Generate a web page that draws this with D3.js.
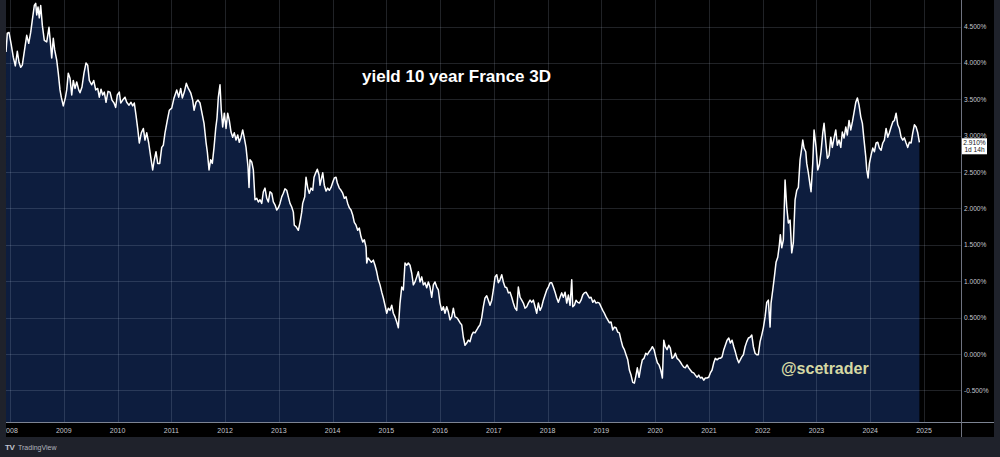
<!DOCTYPE html>
<html><head><meta charset="utf-8">
<script src="https://cdn.jsdelivr.net/npm/d3@7"></script>
<style>html,body{margin:0;padding:0;background:#1f222b;overflow:hidden}</style>
</head><body>
<svg id="c" width="1000" height="457"></svg>
<script>
const titleText = "yield 10 year France 3D";
const watermarkText = "@scetrader";
const brandText = "TradingView";
const yearTicks = d3.range(2008, 2026);
const yieldTicks = [-0.5, 0, 0.5, 1, 1.5, 2, 2.5, 3, 3.5, 4, 4.5];
const lastValueLabel = ["2.910%", "1d 14h"];

// decimal years
const dates = [
2007.926,2007.950,2007.981,2008.019,2008.061,2008.099,2008.136,2008.167,2008.199,2008.229,2008.279,2008.311,2008.348,2008.385,2008.415,2008.452,2008.478,2008.497,2008.521,2008.545,2008.571,2008.601,2008.638,2008.683,2008.725,2008.750,2008.776,2008.805,2008.831,2008.869,2008.898,2008.930,2008.954,2008.991,
2009.029,2009.055,2009.084,2009.116,2009.148,2009.177,2009.209,2009.241,2009.278,2009.302,2009.339,2009.376,2009.414,2009.445,2009.475,2009.520,2009.557,2009.594,2009.631,2009.661,2009.693,2009.724,2009.754,2009.786,2009.823,2009.860,2009.897,2009.935,2009.966,2009.996,
2010.033,2010.059,2010.096,2010.139,2010.171,2010.214,2010.251,2010.282,2010.312,2010.344,2010.375,2010.405,2010.442,2010.480,2010.511,2010.543,2010.580,2010.617,2010.654,2010.684,2010.716,2010.747,2010.785,2010.822,2010.852,2010.883,2010.926,2010.963,
2011.008,2011.051,2011.101,2011.138,2011.175,2011.205,2011.242,2011.279,2011.317,2011.361,2011.398,2011.423,2011.460,2011.497,2011.534,2011.571,2011.609,2011.646,2011.670,2011.702,2011.733,2011.763,2011.795,2011.826,2011.850,2011.875,2011.906,2011.930,2011.956,2011.986,
2012.018,2012.049,2012.079,2012.111,2012.142,2012.172,2012.204,2012.235,2012.265,2012.297,2012.328,2012.358,2012.390,2012.427,2012.446,2012.464,2012.496,2012.526,2012.557,2012.589,2012.619,2012.650,2012.682,2012.712,2012.743,2012.775,2012.805,2012.836,2012.868,2012.898,2012.929,2012.961,2012.991,
2013.022,2013.054,2013.084,2013.115,2013.147,2013.177,2013.208,2013.240,2013.270,2013.288,2013.320,2013.363,2013.394,2013.426,2013.444,2013.482,2013.506,2013.538,2013.567,2013.599,2013.631,2013.655,2013.686,2013.716,2013.748,2013.766,2013.798,2013.817,2013.846,2013.878,2013.909,2013.939,2013.971,
2014.003,2014.032,2014.064,2014.088,2014.125,2014.157,2014.188,2014.218,2014.250,2014.281,2014.311,2014.343,2014.374,2014.404,2014.436,2014.467,2014.497,2014.529,2014.561,2014.590,2014.622,2014.635,2014.659,2014.691,2014.721,2014.758,2014.789,2014.821,2014.851,2014.882,2014.914,2014.944,2014.975,
2015.007,2015.037,2015.068,2015.100,2015.130,2015.161,2015.193,2015.223,2015.254,2015.286,2015.316,2015.347,2015.379,2015.409,2015.440,2015.472,2015.502,2015.533,2015.565,2015.595,2015.626,2015.658,2015.688,2015.719,2015.751,2015.781,2015.812,2015.844,2015.874,2015.905,2015.937,2015.967,2015.998,
2016.030,2016.060,2016.091,2016.123,2016.153,2016.184,2016.216,2016.246,2016.277,2016.309,2016.339,2016.370,2016.402,2016.432,2016.463,2016.495,2016.525,2016.556,2016.588,2016.618,2016.649,2016.681,2016.711,2016.742,2016.774,2016.804,2016.835,2016.867,2016.897,2016.928,2016.960,2016.990,
2017.022,2017.053,2017.083,2017.114,2017.146,2017.176,2017.207,2017.239,2017.269,2017.301,2017.332,2017.362,2017.394,2017.425,2017.455,2017.487,2017.518,2017.548,2017.580,2017.611,2017.641,2017.673,2017.704,2017.734,2017.766,2017.797,2017.827,2017.859,2017.890,2017.920,2017.952,2017.983,
2018.013,2018.045,2018.076,2018.106,2018.138,2018.169,2018.199,2018.231,2018.262,2018.292,2018.324,2018.355,2018.385,2018.417,2018.448,2018.467,2018.497,2018.528,2018.560,2018.590,2018.621,2018.653,2018.683,2018.714,2018.746,2018.776,2018.807,2018.839,2018.869,2018.900,2018.932,2018.962,2018.993,
2019.025,2019.055,2019.086,2019.118,2019.148,2019.179,2019.211,2019.241,2019.272,2019.304,2019.334,2019.365,2019.397,2019.427,2019.458,2019.490,2019.520,2019.551,2019.583,2019.613,2019.644,2019.668,2019.700,2019.732,2019.761,2019.793,2019.825,2019.855,2019.886,2019.918,2019.948,2019.979,
2020.011,2020.041,2020.072,2020.104,2020.134,2020.160,2020.189,2020.221,2020.253,2020.282,2020.314,2020.346,2020.375,2020.407,2020.439,2020.468,2020.500,2020.531,2020.561,2020.593,2020.624,2020.654,2020.686,2020.717,2020.747,2020.779,2020.810,2020.840,2020.872,2020.903,2020.933,2020.965,2020.996,
2021.026,2021.058,2021.090,2021.119,2021.151,2021.183,2021.212,2021.244,2021.276,2021.305,2021.337,2021.369,2021.398,2021.430,2021.462,2021.491,2021.523,2021.555,2021.611,2021.641,2021.672,2021.704,2021.734,2021.765,2021.797,2021.827,2021.858,2021.889,2021.918,2021.951,2021.982,
2022.012,2022.044,2022.075,2022.105,2022.137,2022.155,2022.187,2022.217,2022.248,2022.280,2022.310,2022.328,2022.354,2022.384,2022.416,2022.447,2022.477,2022.509,2022.540,2022.570,2022.602,2022.633,2022.663,2022.695,2022.726,2022.745,2022.769,2022.801,2022.819,2022.849,2022.881,2022.899,2022.931,2022.955,2022.993,
2023.024,2023.054,2023.085,2023.117,2023.141,2023.173,2023.202,2023.234,2023.266,2023.295,2023.327,2023.359,2023.388,2023.420,2023.452,2023.481,2023.513,2023.545,2023.574,2023.606,2023.638,2023.668,2023.699,2023.731,2023.761,2023.792,2023.824,2023.854,2023.885,2023.917,2023.935,2023.960,2023.984,
2024.015,2024.047,2024.077,2024.109,2024.140,2024.170,2024.202,2024.233,2024.263,2024.295,2024.326,2024.356,2024.388,2024.419,2024.449,2024.481,2024.512,2024.542,2024.574,2024.605,2024.635,2024.667,2024.698,2024.728,2024.760,2024.791,2024.821,2024.853,2024.884,2024.914
];

// yield in %
const yields = [
4.15,4.41,4.42,4.27,4.08,3.96,4.16,4.01,3.94,3.97,4.22,4.38,4.27,4.42,4.59,4.79,4.82,4.66,4.77,4.62,4.79,4.52,4.31,4.29,4.49,4.29,4.07,4.34,4.18,4.04,3.86,3.63,3.53,3.41,
3.52,3.63,3.86,3.79,3.56,3.76,3.65,3.74,3.63,3.59,3.67,3.86,4.00,3.97,3.76,3.70,3.76,3.63,3.65,3.53,3.64,3.56,3.60,3.46,3.61,3.60,3.49,3.45,3.39,3.56,
3.60,3.45,3.49,3.53,3.46,3.42,3.46,3.41,3.45,3.28,3.10,2.90,3.04,3.10,2.94,3.04,2.90,2.71,2.53,2.67,2.78,2.62,2.62,2.84,2.87,3.04,3.21,3.35,
3.38,3.52,3.63,3.53,3.65,3.52,3.60,3.72,3.65,3.59,3.49,3.35,3.46,3.49,3.45,3.31,3.17,2.91,2.78,2.53,2.67,2.62,2.84,3.10,3.24,3.53,3.70,3.35,3.12,3.31,
3.10,3.31,3.21,3.05,2.98,3.04,2.94,3.01,2.91,2.98,3.08,2.97,2.84,2.57,2.29,2.67,2.64,2.53,2.12,2.14,2.09,2.12,2.07,2.23,2.28,2.14,2.09,2.23,2.21,2.09,2.05,1.98,2.01,
2.07,2.16,2.21,2.27,2.25,2.16,2.07,2.02,1.95,1.77,1.75,1.70,1.81,1.95,2.07,2.16,2.43,2.28,2.21,2.28,2.25,2.43,2.49,2.54,2.46,2.32,2.43,2.49,2.32,2.24,2.28,2.25,2.29,
2.36,2.42,2.43,2.35,2.28,2.25,2.21,2.14,2.16,2.07,2.01,1.98,1.91,1.81,1.77,1.70,1.73,1.61,1.54,1.57,1.47,1.25,1.32,1.29,1.26,1.29,1.22,1.13,1.02,0.95,0.85,0.77,0.67,
0.56,0.63,0.60,0.67,0.56,0.51,0.44,0.36,0.70,0.92,0.88,1.25,1.22,1.25,1.22,1.11,0.95,0.99,1.06,1.13,0.99,1.06,0.95,0.98,0.91,0.99,0.92,0.78,0.95,0.99,0.92,0.88,0.70,
0.60,0.65,0.56,0.65,0.58,0.47,0.51,0.63,0.51,0.50,0.47,0.43,0.40,0.23,0.12,0.15,0.19,0.17,0.26,0.30,0.29,0.33,0.37,0.40,0.50,0.65,0.77,0.80,0.74,0.67,0.74,0.88,
1.06,1.09,0.98,1.02,1.09,0.99,0.92,0.91,0.84,0.85,0.78,0.70,0.63,0.60,0.92,0.78,0.74,0.70,0.63,0.65,0.70,0.74,0.71,0.74,0.65,0.56,0.70,0.60,0.65,0.74,0.81,0.88,
0.92,0.98,0.98,0.92,0.85,0.77,0.71,0.78,0.84,0.78,0.85,0.70,0.81,0.67,1.02,0.65,0.67,0.74,0.71,0.70,0.74,0.81,0.84,0.85,0.81,0.77,0.78,0.71,0.74,0.70,0.71,0.70,0.65,
0.60,0.56,0.51,0.47,0.43,0.44,0.33,0.37,0.36,0.30,0.29,0.19,0.10,0.06,-0.01,-0.08,-0.22,-0.29,-0.39,-0.40,-0.29,-0.19,-0.32,-0.18,-0.08,-0.06,0.01,-0.01,0.03,0.06,0.10,0.06,
-0.04,-0.12,-0.15,-0.22,-0.33,0.19,0.10,0.06,0.12,0.08,-0.06,-0.04,0.01,-0.06,-0.08,-0.11,-0.15,-0.18,-0.19,-0.15,-0.19,-0.22,-0.25,-0.26,-0.29,-0.32,-0.29,-0.33,-0.32,-0.36,-0.33,-0.33,-0.32,
-0.26,-0.22,-0.12,-0.06,-0.08,-0.06,-0.06,-0.04,0.06,0.12,0.19,0.22,0.15,0.19,0.10,0.03,-0.06,-0.12,-0.04,-0.01,0.10,0.17,0.22,0.23,0.26,0.10,0.01,-0.01,-0.01,0.17,0.26,
0.36,0.51,0.71,0.74,0.37,0.70,0.88,1.06,1.26,1.33,1.50,1.64,1.46,1.57,2.39,2.02,1.80,1.84,1.39,1.53,2.12,2.25,2.29,2.67,2.83,2.94,2.83,2.78,2.62,2.49,2.32,2.23,2.62,3.08,2.84,
2.53,2.60,2.78,3.04,3.17,2.91,2.69,2.73,2.98,2.84,2.97,3.08,2.87,2.94,2.84,3.05,2.97,3.12,3.01,3.21,3.08,3.19,3.32,3.46,3.52,3.42,3.26,3.17,2.94,2.71,2.53,2.42,2.62,
2.73,2.83,2.78,2.90,2.91,2.83,2.80,2.90,2.94,3.10,2.98,3.04,3.12,3.19,3.21,3.31,3.15,3.10,2.98,2.94,2.97,2.90,2.84,2.91,2.90,3.04,3.15,3.12,3.04,2.91
];

const data = dates.map((d, i) => ({t: d, v: yields[i]}));

const W = 1000, H = 457;
const plotL = 6, plotR = 961, plotT = 0, plotB = 422;
const axisR = 994, axisB = 437;

const x = d3.scaleLinear().domain([2008, 2025]).range([10, 924]);
const y = d3.scaleLinear().domain([0, 4.5]).range([354, 26.6]);

const svg = d3.select("#c");
svg.append("rect").attr("width", W).attr("height", H).attr("fill", "#1f222b");
svg.append("rect").attr("x", plotL).attr("y", 0).attr("width", axisR - plotL).attr("height", axisB).attr("fill", "#000");

const defs = svg.append("defs");
defs.append("clipPath").attr("id", "plotclip").append("rect")
  .attr("x", plotL).attr("y", plotT).attr("width", plotR - plotL).attr("height", plotB - plotT);

const plot = svg.append("g").attr("clip-path", "url(#plotclip)");

const area = d3.area().x(d => x(d.t)).y0(plotB).y1(d => y(d.v)).curve(d3.curveLinear);
const line = d3.line().x(d => x(d.t)).y(d => y(d.v)).curve(d3.curveLinear);

plot.append("path").datum(data).attr("d", area).attr("fill", "#0d1d3e");

// grid
const grid = plot.append("g").attr("stroke", "rgba(190,200,225,0.17)").attr("stroke-width", 1).attr("shape-rendering", "crispEdges");
grid.selectAll(".h").data(yieldTicks).enter().append("line")
  .attr("x1", plotL).attr("x2", plotR).attr("y1", d => Math.round(y(d)) + 0.5).attr("y2", d => Math.round(y(d)) + 0.5);
grid.selectAll(".v").data(yearTicks).enter().append("line")
  .attr("y1", plotT).attr("y2", plotB).attr("x1", d => Math.round(x(d)) + 0.5).attr("x2", d => Math.round(x(d)) + 0.5);

plot.append("path").datum(data).attr("d", line).attr("fill", "none")
  .attr("stroke", "#ffffff").attr("stroke-width", 1.5).attr("stroke-linejoin", "round");

// title & watermark
svg.append("text").attr("x", 362).attr("y", 82).text(titleText)
  .attr("font-family", "Liberation Sans, Arial, sans-serif").attr("font-weight", "bold")
  .attr("font-size", 17).attr("fill", "#ffffff");
svg.append("text").attr("x", 781).attr("y", 374).text(watermarkText)
  .attr("font-family", "Liberation Sans, Arial, sans-serif").attr("font-weight", "bold")
  .attr("font-size", 16).attr("fill", "#d5d9a4");

// axes separators
svg.append("line").attr("x1", plotL).attr("x2", axisR).attr("y1", plotB + 0.5).attr("y2", plotB + 0.5)
  .attr("stroke", "#7d8493").attr("stroke-width", 1);
svg.append("line").attr("x1", plotR + 0.5).attr("x2", plotR + 0.5).attr("y1", 0).attr("y2", axisB)
  .attr("stroke", "#6f7380").attr("stroke-width", 1);

// bottom axis labels
const fontAxis = "Liberation Sans, Arial, sans-serif";
svg.append("g").selectAll("text").data(yearTicks).enter().append("text")
  .attr("x", d => x(d)).attr("y", 432.5).attr("text-anchor", "middle")
  .attr("font-family", fontAxis).attr("font-size", 7).attr("fill", "#c3c6ce")
  .text(d => d3.format("d")(d));

// right axis labels
svg.append("g").selectAll("text").data(yieldTicks).enter().append("text")
  .attr("x", 964).attr("y", d => y(d) + 2.5)
  .attr("font-family", fontAxis).attr("font-size", 6.6).attr("fill", "#c3c6ce")
  .text(d => d.toFixed(3) + "%");

// last value box
const lastV = yields[yields.length - 1];
const by = y(lastV);
svg.append("rect").attr("x", 962).attr("y", by - 4).attr("width", 25).attr("height", 16).attr("fill", "#ffffff");
svg.append("text").attr("x", 974.5).attr("y", by + 2.6).attr("text-anchor", "middle")
  .attr("font-family", fontAxis).attr("font-size", 6.6).attr("fill", "#131722").text(lastValueLabel[0]);
svg.append("text").attr("x", 974.5).attr("y", by + 10).attr("text-anchor", "middle")
  .attr("font-family", fontAxis).attr("font-size", 6.6).attr("fill", "#131722").text(lastValueLabel[1]);

// left frame strip (covers cut-off label)
svg.append("rect").attr("x", 0).attr("y", 0).attr("width", plotL).attr("height", H).attr("fill", "#1f222b");

// brand
svg.append("text").attr("x", 5).attr("y", 450).text("TV")
  .attr("font-family", fontAxis).attr("font-weight", "bold").attr("font-size", 8).attr("fill", "#c3c6ce")
  .attr("letter-spacing", -0.5);
svg.append("text").attr("x", 18).attr("y", 450).text(brandText)
  .attr("font-family", fontAxis).attr("font-size", 7).attr("fill", "#b2b5be");
</script>
</body></html>
